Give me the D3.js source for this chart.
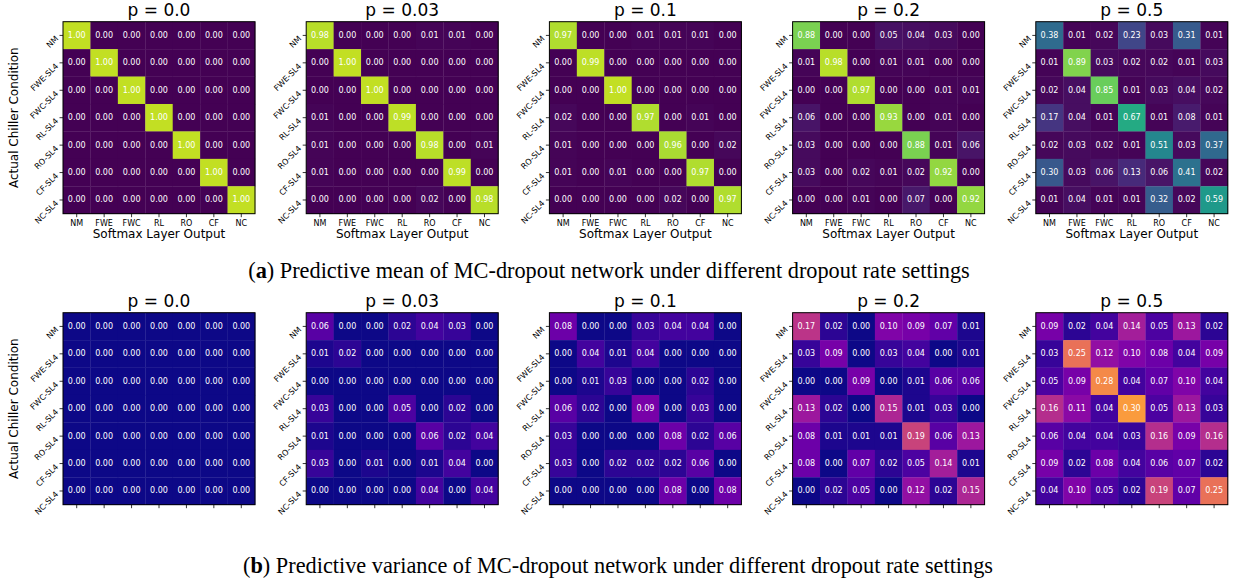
<!DOCTYPE html>
<html><head><meta charset="utf-8">
<script src="https://cdn.jsdelivr.net/npm/d3@7"></script>
<style>
body{margin:0;background:#fff;}
svg{display:block;}
</style></head>
<body>
<svg id="c" width="1233" height="584"></svg>
<script>
const xLabels = ["NM","FWE","FWC","RL","RO","CF","NC"];
const yLabels = ["NM","FWE-SL4","FWC-SL4","RL-SL4","RO-SL4","CF-SL4","NC-SL4"];
const pTitles = ["p = 0.0","p = 0.03","p = 0.1","p = 0.2","p = 0.5"];

const mean_p00 = [
 [1,0,0,0,0,0,0],[0,1,0,0,0,0,0],[0,0,1,0,0,0,0],[0,0,0,1,0,0,0],
 [0,0,0,0,1,0,0],[0,0,0,0,0,1,0],[0,0,0,0,0,0,1]];
const mean_p003 = [
 [0.98,0,0,0,0.01,0.01,0],[0,1.00,0,0,0,0,0],[0,0,1.00,0,0,0,0],
 [0.01,0,0,0.99,0,0,0],[0.01,0,0,0,0.98,0,0.01],[0.01,0,0,0,0,0.99,0],
 [0,0,0,0,0.02,0,0.98]];
const mean_p01 = [
 [0.97,0,0,0.01,0.01,0.01,0],[0,0.99,0,0,0,0,0],[0,0,1.00,0,0,0,0],
 [0.02,0,0,0.97,0,0.01,0],[0.01,0,0,0,0.96,0,0.02],[0.01,0,0.01,0,0,0.97,0],
 [0,0,0,0,0.02,0,0.97]];
const mean_p02 = [
 [0.88,0,0,0.05,0.04,0.03,0],[0.01,0.98,0,0.01,0.01,0,0],[0,0,0.97,0,0,0.01,0.01],
 [0.06,0,0,0.93,0,0.01,0],[0.03,0,0,0,0.88,0.01,0.06],[0.03,0,0.02,0.01,0.02,0.92,0],
 [0,0,0.01,0,0.07,0,0.92]];
const mean_p05 = [
 [0.38,0.01,0.02,0.23,0.03,0.31,0.01],[0.01,0.89,0.03,0.02,0.02,0.01,0.03],
 [0.02,0.04,0.85,0.01,0.03,0.04,0.02],[0.17,0.04,0.01,0.67,0.01,0.08,0.01],
 [0.02,0.03,0.02,0.01,0.51,0.03,0.37],[0.30,0.03,0.06,0.13,0.06,0.41,0.02],
 [0.01,0.04,0.01,0.01,0.32,0.02,0.59]];

const var_p00 = [
 [0,0,0,0,0,0,0],[0,0,0,0,0,0,0],[0,0,0,0,0,0,0],[0,0,0,0,0,0,0],
 [0,0,0,0,0,0,0],[0,0,0,0,0,0,0],[0,0,0,0,0,0,0]];
const var_p003 = [
 [0.06,0,0,0.02,0.04,0.03,0],[0.01,0.02,0,0,0,0,0],[0,0,0,0,0,0,0],
 [0.03,0,0,0.05,0,0.02,0],[0.01,0,0,0,0.06,0.02,0.04],[0.03,0,0.01,0,0.01,0.04,0],
 [0,0,0,0,0.04,0,0.04]];
const var_p01 = [
 [0.08,0,0,0.03,0.04,0.04,0],[0,0.04,0.01,0.04,0,0,0],[0,0.01,0.03,0,0,0.02,0],
 [0.06,0.02,0,0.09,0,0.03,0],[0.03,0,0,0,0.08,0.02,0.06],[0.03,0,0.02,0.02,0.02,0.06,0],
 [0,0,0,0,0.08,0,0.08]];
const var_p02 = [
 [0.17,0.02,0,0.10,0.09,0.07,0.01],[0.03,0.09,0,0.03,0.04,0,0.01],[0,0,0.09,0,0.01,0.06,0.06],
 [0.13,0.02,0,0.15,0.01,0.03,0],[0.08,0.01,0.01,0.01,0.19,0.06,0.13],[0.08,0,0.07,0.02,0.05,0.14,0.01],
 [0,0.02,0.05,0,0.12,0.02,0.15]];
const var_p05 = [
 [0.09,0.02,0.04,0.14,0.05,0.13,0.02],[0.03,0.25,0.12,0.10,0.08,0.04,0.09],
 [0.05,0.09,0.28,0.04,0.07,0.10,0.04],[0.16,0.11,0.04,0.30,0.05,0.13,0.03],
 [0.06,0.04,0.04,0.03,0.16,0.09,0.16],[0.09,0.02,0.08,0.04,0.06,0.07,0.02],
 [0.04,0.10,0.05,0.02,0.19,0.07,0.25]];

const meanSets = [mean_p00, mean_p003, mean_p01, mean_p02, mean_p05];
const varSets = [var_p00, var_p003, var_p01, var_p02, var_p05];

const captionA = "Predictive mean of MC-dropout network under different dropout rate settings";
const captionB = "Predictive variance of MC-dropout network under different dropout rate settings";

const svg = d3.select("#c");
const SIZE = 192, LEFT0 = 63, STEP = 243.2;
const meanColor = d3.scaleSequential(d3.interpolateViridis).domain([0, 1.1]);
const varColor = d3.scaleSequential(d3.interpolatePlasma).domain([0, 0.39]);
const FONT = "DejaVu Sans, sans-serif";

function panel(data, left, top, title, color, showXLabels, showYTitle) {
  const g = svg.append("g").attr("transform", `translate(${left},${top})`);
  const x = d3.scaleBand().domain(xLabels).range([0, SIZE]);
  const y = d3.scaleBand().domain(yLabels).range([0, SIZE]);
  const cells = [];
  data.forEach((row, i) => row.forEach((v, j) => cells.push({r: yLabels[i], c: xLabels[j], v})));
  g.selectAll("rect.cell").data(cells).join("rect")
    .attr("x", d => x(d.c)).attr("y", d => y(d.r))
    .attr("width", x.bandwidth() + 0.3).attr("height", y.bandwidth() + 0.3)
    .attr("fill", d => color(d.v));
  g.selectAll("text.val").data(cells).join("text")
    .attr("x", d => x(d.c) + x.bandwidth() / 2).attr("y", d => y(d.r) + y.bandwidth() / 2)
    .attr("text-anchor", "middle").attr("dominant-baseline", "central")
    .attr("font-family", FONT).attr("font-size", 8).attr("fill", "#fff")
    .text(d => d.v.toFixed(2));
  g.append("rect").attr("width", SIZE).attr("height", SIZE)
    .attr("fill", "none").attr("stroke", "#000").attr("stroke-width", 1);
  // y ticks
  const yt = g.selectAll("g.yt").data(yLabels).join("g")
    .attr("transform", d => `translate(0,${y(d) + y.bandwidth() / 2})`);
  yt.append("line").attr("x1", -3.5).attr("x2", 0).attr("stroke", "#000").attr("stroke-width", 0.8);
  yt.append("text").attr("transform", "translate(-6,2) rotate(-45)")
    .attr("text-anchor", "end").attr("dominant-baseline", "middle")
    .attr("font-family", FONT).attr("font-size", 8).attr("fill", "#000").text(d => d);
  // x ticks
  const xt = g.selectAll("g.xt").data(xLabels).join("g")
    .attr("transform", d => `translate(${x(d) + x.bandwidth() / 2},${SIZE})`);
  xt.append("line").attr("y1", 0).attr("y2", 3.5).attr("stroke", "#000").attr("stroke-width", 0.8);
  if (showXLabels) {
    xt.append("text").attr("y", 12.5).attr("text-anchor", "middle")
      .attr("font-family", FONT).attr("font-size", 8).attr("fill", "#000").text(d => d);
    g.append("text").attr("x", SIZE / 2).attr("y", SIZE + 24.5).attr("text-anchor", "middle")
      .attr("font-family", FONT).attr("font-size", 12).attr("fill", "#000").text("Softmax Layer Output");
  }
  if (showYTitle) {
    g.append("text").attr("transform", `translate(${-49},${SIZE / 2}) rotate(-90)`)
      .attr("text-anchor", "middle").attr("dominant-baseline", "central")
      .attr("font-family", FONT).attr("font-size", 12).attr("fill", "#000").text("Actual Chiller Condition");
  }
  g.append("text").attr("x", SIZE / 2).attr("y", -6).attr("text-anchor", "middle")
    .attr("font-family", FONT).attr("font-size", 17).attr("fill", "#000").text(title);
}

meanSets.forEach((d, k) => panel(d, LEFT0 + k * STEP, 21.7, pTitles[k], meanColor, true, k === 0));
varSets.forEach((d, k) => panel(d, LEFT0 + k * STEP, 312.7, pTitles[k], varColor, false, k === 0));

function caption(cx, y, letter, txt) {
  const t = svg.append("text").attr("x", cx).attr("y", y).attr("text-anchor", "middle")
    .attr("font-family", "Liberation Serif, Times New Roman, serif").attr("font-size", 22.3).attr("fill", "#000");
  t.append("tspan").text("(");
  t.append("tspan").attr("font-weight", "bold").text(letter);
  t.append("tspan").text(") " + txt);
}
caption(609, 278, "a", captionA);
caption(618, 573, "b", captionB);
</script>
</body></html>
